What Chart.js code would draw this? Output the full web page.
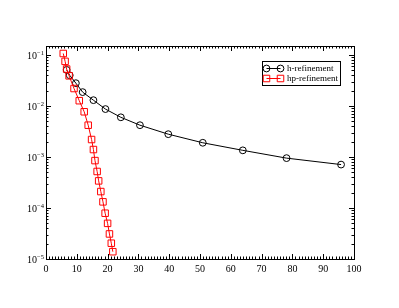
<!DOCTYPE html>
<html>
<head>
<meta charset="utf-8">
<script src="https://cdn.jsdelivr.net/npm/chart.js@4/dist/chart.umd.min.js"></script>
<style>
  html, body { margin: 0; padding: 0; background: #fff; }
  #wrap { width: 399px; height: 308px; }
</style>
</head>
<body>
<div id="wrap"><canvas id="chart" width="399" height="308"></canvas></div>
<script>
// h-refinement: error vs. x
const hX = [6.7, 7.7, 9.7, 11.9, 15.4, 19.3, 24.3, 30.5, 39.7, 50.9, 63.9, 78.1, 95.8];
const hErr = [0.051, 0.040, 0.028, 0.0187, 0.013, 0.0087, 0.0060, 0.0042, 0.0028, 0.0019, 0.00135, 0.00095, 0.00071];

// hp-refinement
const hpX = [5.6, 6.2, 6.7, 7.5, 9.1, 10.8, 12.4, 13.7, 14.8, 15.4, 15.9, 16.6, 17.1, 17.8, 18.5, 19.2, 20.0, 20.6, 21.2, 21.7];
const hpErr = [0.107, 0.075, 0.053, 0.039, 0.022, 0.0127, 0.0077, 0.0042, 0.0022, 0.0014, 0.00085, 0.00052, 0.00034, 0.00021, 0.000132, 0.000079, 0.000050, 0.000031, 0.0000204, 0.0000139];

const seriesNames = ['h-refinement', 'hp-refinement'];
const xTickLabels = [0, 10, 20, 30, 40, 50, 60, 70, 80, 90, 100];
const yDecadeExps = [-5, -4, -3, -2, -1];

const SERIF = "'Liberation Serif', 'DejaVu Serif', serif";

function toPoints(xs, ys) {
    return xs.map((x, i) => ({ x: x, y: ys[i] }));
}

// frame, inward ticks on all sides, y labels with superscripts, legend box
const gracePlugin = {
    id: 'grace',
    afterDraw(chart) {
        const ctx = chart.ctx;
        const a = chart.chartArea;
        const xs = chart.scales.x;
        const ys = chart.scales.y;
        ctx.save();
        ctx.strokeStyle = '#000';
        ctx.lineWidth = 1;
        ctx.strokeRect(Math.round(a.left) + 0.5, Math.round(a.top) + 0.5,
            Math.round(a.right - a.left), Math.round(a.bottom - a.top));

        ctx.beginPath();
        for (let v = 0; v <= 100; v++) {
            const px = Math.round(xs.getPixelForValue(v)) + 0.5;
            const len = v % 10 === 0 ? 5 : 2.5;
            ctx.moveTo(px, a.bottom); ctx.lineTo(px, a.bottom - len);
            ctx.moveTo(px, a.top); ctx.lineTo(px, a.top + len);
        }
        yDecadeExps.forEach(e => {
            for (let m = 1; m <= 9; m++) {
                const val = m * Math.pow(10, e);
                if (val > ys.max) break;
                const py = Math.round(ys.getPixelForValue(val)) + 0.5;
                const len = m === 1 ? 5 : 2.5;
                ctx.moveTo(a.left, py); ctx.lineTo(a.left + len, py);
                ctx.moveTo(a.right, py); ctx.lineTo(a.right - len, py);
            }
        });
        ctx.stroke();

        // y tick labels 10^e
        ctx.fillStyle = '#000';
        ctx.textBaseline = 'middle';
        yDecadeExps.forEach(e => {
            const py = ys.getPixelForValue(Math.pow(10, e));
            const sup = String(e).replace('-', '\u2212');
            ctx.font = '6.5px ' + SERIF;
            const supW = ctx.measureText(sup).width;
            ctx.textAlign = 'right';
            const supX = a.left - 2;
            ctx.fillText(sup, supX, py - 2);
            ctx.font = '10px ' + SERIF;
            ctx.fillText('10', supX - supW, py + 1.5);
        });

        // legend
        const lx = 262.5, ly = 61.5, lw = 78, lh = 24;
        ctx.strokeStyle = '#000';
        ctx.strokeRect(lx, ly, lw, lh);
        ctx.font = '9px ' + SERIF;
        ctx.textAlign = 'left';
        chart.data.datasets.forEach((ds, i) => {
            const y = ly + 7 + i * 10;
            ctx.strokeStyle = ds.borderColor;
            ctx.fillStyle = 'rgba(0,0,0,0)';
            ctx.lineWidth = 1;
            ctx.beginPath();
            ctx.moveTo(266.5, y); ctx.lineTo(280.5, y);
            ctx.stroke();
            [266.5, 280.5].forEach(px => {
                Chart.helpers.drawPoint(ctx, {
                    pointStyle: ds.pointStyle, radius: ds.pointRadius,
                    borderWidth: 1, rotation: 0
                }, px, y);
            });
            ctx.fillStyle = '#000';
            ctx.fillText(ds.label, 287, y + 0.5);
        });
        ctx.restore();
    }
};

new Chart(document.getElementById('chart').getContext('2d'), {
    type: 'line',
    data: {
        datasets: [{
            label: seriesNames[0],
            data: toPoints(hX, hErr),
            borderColor: '#000000',
            borderWidth: 1,
            pointStyle: 'circle',
            pointRadius: 3.4,
            pointBorderWidth: 1,
            pointBorderColor: '#000000',
            pointBackgroundColor: 'rgba(0,0,0,0)',
            tension: 0,
            order: 1
        }, {
            label: seriesNames[1],
            data: toPoints(hpX, hpErr),
            borderColor: '#ff0000',
            borderWidth: 1,
            pointStyle: 'rect',
            pointRadius: 4.6,
            pointBorderWidth: 1,
            pointBorderColor: '#ff0000',
            pointBackgroundColor: 'rgba(0,0,0,0)',
            tension: 0,
            order: 0
        }]
    },
    options: {
        responsive: false,
        animation: false,
        layout: { padding: { left: 46, right: 45, top: 46, bottom: 29 } },
        plugins: { legend: { display: false }, tooltip: { enabled: false } },
        scales: {
            x: {
                type: 'linear',
                min: 0,
                max: 100,
                grid: { display: false, drawTicks: false },
                border: { display: false },
                afterBuildTicks: scale => {
                    scale.ticks = xTickLabels.map(v => ({ value: v }));
                },
                ticks: {
                    color: '#000',
                    font: { family: SERIF, size: 10 },
                    padding: 4,
                    maxRotation: 0,
                    autoSkip: false
                }
            },
            y: {
                type: 'logarithmic',
                min: 1e-5,
                max: 0.15,
                grid: { display: false, drawTicks: false },
                border: { display: false },
                ticks: { display: false }
            }
        }
    },
    plugins: [gracePlugin]
});
</script>
</body>
</html>
